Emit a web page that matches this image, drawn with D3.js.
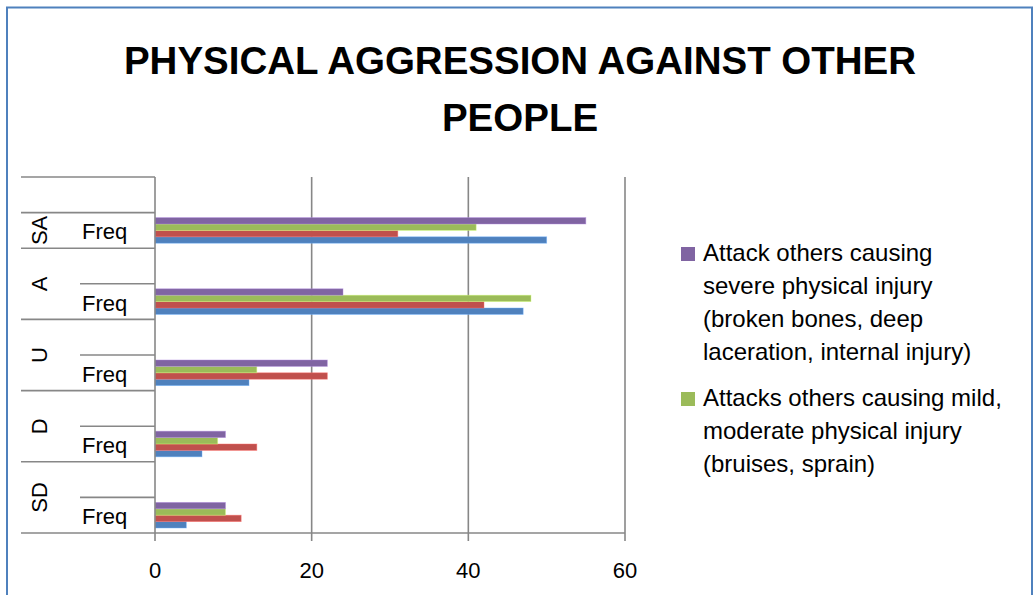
<!DOCTYPE html>
<html>
<head>
<meta charset="utf-8">
<script src="https://cdn.jsdelivr.net/npm/d3@7/dist/d3.min.js"></script>
<style>
  html, body { margin: 0; padding: 0; background: #fff; }
  svg { display: block; }
  text { font-family: "Liberation Sans", Arial, sans-serif; fill: #000; }
</style>
</head>
<body>
<svg id="chart" width="1033" height="595"></svg>
<script>
// Category rows (outer level / inner level), top to bottom
const rowOuter = ["", "SA", "A", "A", "U", "U", "D", "D", "SD", "SD"];
const rowInner = ["", "Freq", "", "Freq", "", "Freq", "", "Freq", "", "Freq"];

// Rows that carry values (the "Freq" rows), top to bottom: SA, A, U, D, SD
const valueRows = [1, 3, 5, 7, 9];

// Series values, one per value row
const seriesBlue   = [50, 47, 12, 6, 4];
const seriesRed    = [31, 42, 22, 13, 11];
const seriesGreen  = [41, 48, 13, 8, 9];
const seriesPurple = [55, 24, 22, 9, 9];

const seriesColors = ["#4F81BD", "#C0504D", "#9BBB59", "#8064A2"];
const seriesValues = [seriesBlue, seriesRed, seriesGreen, seriesPurple];

// Legend entries shown (purple first, then green)
const legendItems = [
  { color: "#8064A2", lines: ["Attack others causing", "severe physical injury", "(broken bones, deep", "laceration, internal injury)"] },
  { color: "#9BBB59", lines: ["Attacks others causing mild,", "moderate physical injury", "(bruises, sprain)"] }
];

const xTicks = [0, 20, 40, 60];
const titleLines = ["PHYSICAL AGGRESSION AGAINST OTHER", "PEOPLE"];

const svg = d3.select("#chart");

// outer frame
svg.append("rect")
  .attr("x", 7).attr("y", 7.5)
  .attr("width", 1025).attr("height", 620)
  .attr("fill", "#fff")
  .attr("stroke", "#4F81BD").attr("stroke-width", 2);

// title
svg.append("g").selectAll("text").data(titleLines).join("text")
  .attr("x", 520)
  .attr("y", (d, i) => 74 + i * 57)
  .attr("text-anchor", "middle")
  .attr("font-size", 38.5)
  .attr("font-weight", "bold")
  .text(d => d);

const plot = { left: 155, right: 625, top: 177, bottom: 533 };

const x = d3.scaleLinear().domain([0, 60]).range([plot.left, plot.right]);
const y = d3.scaleBand().domain(d3.range(rowOuter.length)).range([plot.top, plot.bottom]).paddingInner(0).paddingOuter(0);

// series order inside a row: top = last series
const seriesIdx = d3.range(seriesValues.length).reverse();
const ySub = d3.scaleBand().domain(seriesIdx).range([0, y.bandwidth()]).paddingInner(0).paddingOuter(0.78);

const gridColor = "#878787";

// vertical gridlines with tick marks below the axis
svg.append("g").selectAll("line").data(xTicks.filter(t => t !== 0)).join("line")
  .attr("x1", d => x(d)).attr("x2", d => x(d))
  .attr("y1", plot.top).attr("y2", plot.bottom + 8)
  .attr("stroke", gridColor).attr("stroke-width", 1.6);

// bars
const barData = [];
seriesValues.forEach((vals, s) => {
  vals.forEach((v, k) => barData.push({ s, row: valueRows[k], v }));
});
svg.append("g").selectAll("rect").data(barData).join("rect")
  .attr("x", x(0))
  .attr("y", d => y(d.row) + ySub(d.s))
  .attr("width", d => x(d.v) - x(0))
  .attr("height", ySub.bandwidth())
  .attr("fill", d => seriesColors[d.s])
  .attr("stroke", d => d3.color(seriesColors[d.s]).brighter(0.9))
  .attr("stroke-opacity", 0.55)
  .attr("stroke-width", 0.8);

// value axis line (bottom) and category axis line (left)
svg.append("line")
  .attr("x1", 21).attr("x2", plot.right)
  .attr("y1", plot.bottom).attr("y2", plot.bottom)
  .attr("stroke", gridColor).attr("stroke-width", 1.6);
svg.append("line")
  .attr("x1", plot.left).attr("x2", plot.left)
  .attr("y1", plot.top).attr("y2", plot.bottom + 8)
  .attr("stroke", gridColor).attr("stroke-width", 1.6);

// category divider lines: long between outer groups, short between inner rows
const dividers = [{ pos: plot.top, long: true }];
for (let i = 1; i < rowOuter.length; i++) {
  dividers.push({ pos: y(i), long: rowOuter[i] !== rowOuter[i - 1] });
}
svg.append("g").selectAll("line").data(dividers).join("line")
  .attr("x1", d => d.long ? 21 : 80)
  .attr("x2", plot.left)
  .attr("y1", d => d.pos).attr("y2", d => d.pos)
  .attr("stroke", gridColor).attr("stroke-width", 1.6);

// inner labels
svg.append("g").selectAll("text").data(rowInner.map((t, i) => ({ t, i })).filter(d => d.t)).join("text")
  .attr("x", 82)
  .attr("y", d => y(d.i) + y.bandwidth() / 2 + 9)
  .attr("font-size", 22)
  .text(d => d.t);

// outer labels, rotated, centred on each group span
const groups = [];
rowOuter.forEach((g, i) => {
  if (i === 0 || g !== rowOuter[i - 1]) groups.push({ name: g, start: i, end: i });
  else groups[groups.length - 1].end = i;
});
svg.append("g").selectAll("text").data(groups.filter(g => g.name)).join("text")
  .attr("transform", g => {
    const cy = (y(g.start) + y(g.end) + y.bandwidth()) / 2;
    return `translate(47,${cy}) rotate(-90)`;
  })
  .attr("text-anchor", "middle")
  .attr("font-size", 22)
  .text(g => g.name);

// value axis tick labels
svg.append("g").selectAll("text").data(xTicks).join("text")
  .attr("x", d => x(d))
  .attr("y", 578)
  .attr("text-anchor", "middle")
  .attr("font-size", 22)
  .text(d => d);

// legend
let ly = 261;
const legend = svg.append("g");
legendItems.forEach((item, k) => {
  legend.append("rect")
    .attr("x", 681).attr("y", ly - 14)
    .attr("width", 14).attr("height", 14)
    .attr("fill", item.color);
  item.lines.forEach((line, j) => {
    legend.append("text")
      .attr("x", 703)
      .attr("y", ly + j * 33)
      .attr("font-size", 24)
      .text(line);
  });
  ly += item.lines.length * 33 + 13;
});
</script>
</body>
</html>
